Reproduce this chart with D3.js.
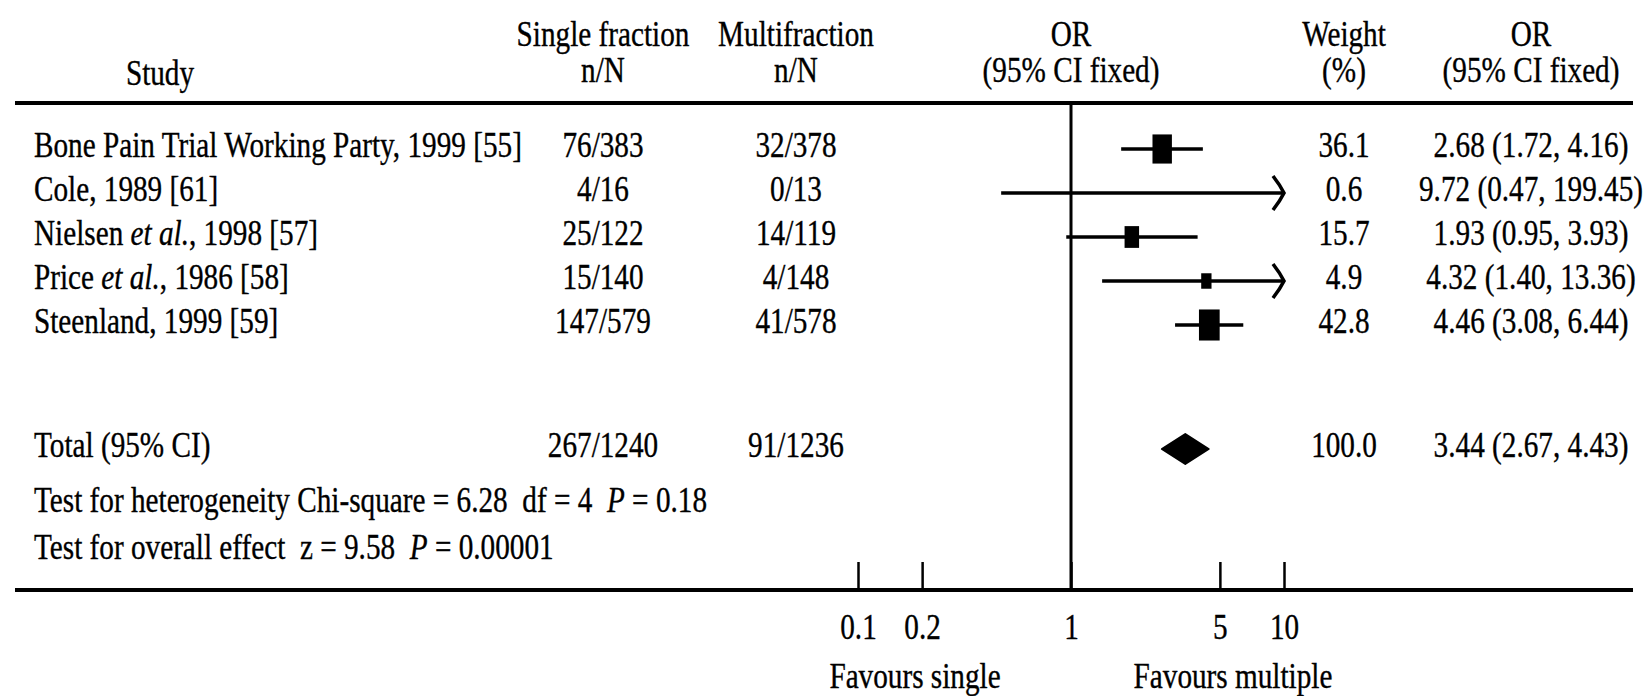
<!DOCTYPE html>
<html><head><meta charset="utf-8">
<script src="https://cdn.jsdelivr.net/npm/d3@7"></script>
<style>
body{margin:0;background:#fff}
text{font-family:"Liberation Serif",serif;white-space:pre;fill:#000;stroke:#000;stroke-width:0.35px}
</style>
</head><body>
<svg id="chart" width="1646" height="696"></svg>
<script>
// ---- data ----
const studies = ["Bone Pain Trial Working Party, 1999 [55]", "Cole, 1989 [61]", "Nielsen *et al.*, 1998 [57]", "Price *et al.*, 1986 [58]", "Steenland, 1999 [59]"];
const singleNN = ["76/383", "4/16", "25/122", "15/140", "147/579"];
const multiNN = ["32/378", "0/13", "14/119", "4/148", "41/578"];
const orValues = [2.68, 9.72, 1.93, 4.32, 4.46];
const ciLower = [1.72, 0.47, 0.95, 1.40, 3.08];
const ciUpper = [4.16, 199.45, 3.93, 13.36, 6.44];
const weights = [36.1, 0.6, 15.7, 4.9, 42.8];
const totalLabel = "Total (95% CI)";
const totalSingle = "267/1240";
const totalMulti = "91/1236";
const totalOR = [3.44, 2.67, 4.43]; // estimate, lower, upper
const totalWeight = 100.0;
const heterogeneityText = "Test for heterogeneity Chi-square = 6.28  df = 4  *P* = 0.18";
const overallText = "Test for overall effect  z = 9.58  *P* = 0.00001";
const tickValues = [0.1, 0.2, 1, 5, 10];
const tickLabels = ["0.1", "0.2", "1", "5", "10"];
const headers = [
  ["Single fraction", "n/N"],
  ["Multifraction", "n/N"],
  ["OR", "(95% CI fixed)"],
  ["Weight", "(%)"],
  ["OR", "(95% CI fixed)"]
];
const favourLabels = ["Favours single", "Favours multiple"];

// ---- layout ----
const SX = 0.835, FS = 35;
const svg = d3.select("#chart");
const x = d3.scaleLog().domain([0.1, 10]).range([858, 1284]);
const y = d3.scalePoint().domain(d3.range(studies.length)).range([149, 325]);
const boxW = d3.scaleSqrt().domain([0, 100]).range([5, 29]);
const boxH = d3.scaleSqrt().domain([0, 100]).range([7.5, 43.5]);
const colSingle = 603, colMulti = 796, colWeight = 1344, colOR = 1531, colStudy = 34;
const ruleTop = 103, ruleBottom = 590, ruleL = 15, ruleR = 1633;
const totalY = 449, hetY = 501, overallY = 548;
const fmt = d3.format(".2f");

function label(px, py, anchor, content) {
  const t = svg.append("text")
    .attr("transform", `translate(${px},${py}) scale(${SX},1)`)
    .attr("text-anchor", anchor)
    .style("font-size", FS + "px");
  String(content).split(/(\*[^*]+\*)/).filter(s => s.length).forEach(s => {
    const it = s.startsWith("*");
    t.append("tspan").text(it ? s.slice(1, -1) : s).style("font-style", it ? "italic" : null);
  });
  return t;
}

// headers
label(160, 85, "middle", "Study");
const headerX = [colSingle, colMulti, x(1), colWeight, colOR];
headers.forEach((h, i) => {
  label(headerX[i], 46, "middle", h[0]);
  label(headerX[i], 82, "middle", h[1]);
});

// rules
svg.append("line").attr("x1", ruleL).attr("x2", ruleR).attr("y1", ruleTop).attr("y2", ruleTop)
  .attr("stroke", "#000").attr("stroke-width", 4);
svg.append("line").attr("x1", ruleL).attr("x2", ruleR).attr("y1", ruleBottom).attr("y2", ruleBottom)
  .attr("stroke", "#000").attr("stroke-width", 4);
// line of no effect
svg.append("line").attr("x1", x(1)).attr("x2", x(1)).attr("y1", ruleTop).attr("y2", ruleBottom)
  .attr("stroke", "#000").attr("stroke-width", 3);

// study rows
const [xMin, xMax] = x.domain();
studies.forEach((s, i) => {
  const cy = y(i);
  label(colStudy, cy + 8, "start", s);
  label(colSingle, cy + 8, "middle", singleNN[i]);
  label(colMulti, cy + 8, "middle", multiNN[i]);
  label(colWeight, cy + 8, "middle", weights[i].toFixed(1));
  label(colOR, cy + 8, "middle", `${fmt(orValues[i])} (${fmt(ciLower[i])}, ${fmt(ciUpper[i])})`);
  const lo = Math.max(ciLower[i], xMin), hi = Math.min(ciUpper[i], xMax);
  svg.append("line").attr("x1", x(lo)).attr("x2", x(hi)).attr("y1", cy).attr("y2", cy)
    .attr("stroke", "#000").attr("stroke-width", 3.6);
  if (ciUpper[i] > xMax) {
    svg.append("path")
      .attr("d", `M${x(xMax) - 11},${cy - 17} Q${x(xMax) - 4},${cy - 8} ${x(xMax)},${cy} Q${x(xMax) - 4},${cy + 8} ${x(xMax) - 11},${cy + 17}`)
      .attr("fill", "none").attr("stroke", "#000").attr("stroke-width", 3.6);
  }
  if (ciLower[i] < xMin) {
    svg.append("path")
      .attr("d", `M${x(xMin) + 11},${cy - 17} Q${x(xMin) + 4},${cy - 8} ${x(xMin)},${cy} Q${x(xMin) + 4},${cy + 8} ${x(xMin) + 11},${cy + 17}`)
      .attr("fill", "none").attr("stroke", "#000").attr("stroke-width", 3.6);
  }
  if (ciUpper[i] <= xMax || (orValues[i] < xMax && weights[i] > 2)) {
    const w = boxW(weights[i]), h = boxH(weights[i]);
    svg.append("rect").attr("x", x(orValues[i]) - w / 2).attr("y", cy - h / 2)
      .attr("width", w).attr("height", h).attr("fill", "#000");
  }
});

// total row
label(colStudy, totalY + 8, "start", totalLabel);
label(colSingle, totalY + 8, "middle", totalSingle);
label(colMulti, totalY + 8, "middle", totalMulti);
label(colWeight, totalY + 8, "middle", totalWeight.toFixed(1));
label(colOR, totalY + 8, "middle", `${fmt(totalOR[0])} (${fmt(totalOR[1])}, ${fmt(totalOR[2])})`);
svg.append("path")
  .attr("d", `M${x(totalOR[1])},${totalY} L${x(totalOR[0])},${totalY - 15} L${x(totalOR[2])},${totalY} L${x(totalOR[0])},${totalY + 15} Z`)
  .attr("fill", "#000").attr("stroke", "#000").attr("stroke-width", 2).attr("stroke-linejoin", "round");

// tests
label(colStudy, hetY + 11, "start", heterogeneityText);
label(colStudy, overallY + 11, "start", overallText);

// axis
const axis = d3.axisBottom(x).tickValues(tickValues)
  .tickFormat((d, i) => tickLabels[i]).tickSize(-28).tickSizeOuter(0);
const ag = svg.append("g").attr("transform", `translate(0,${ruleBottom})`).call(axis);
ag.select(".domain").remove();
ag.selectAll(".tick line").attr("stroke", "#000").attr("stroke-width", 2.5);
ag.selectAll(".tick text")
  .attr("y", 49).attr("dy", null)
  .attr("transform", `scale(${SX},1)`)
  .style("font-size", FS + "px")
  .style("font-family", '"Liberation Serif",serif')
  .attr("fill", "#000");

// favours labels
label(915, 688, "middle", favourLabels[0]);
label(1233, 688, "middle", favourLabels[1]);
</script>
</body></html>
